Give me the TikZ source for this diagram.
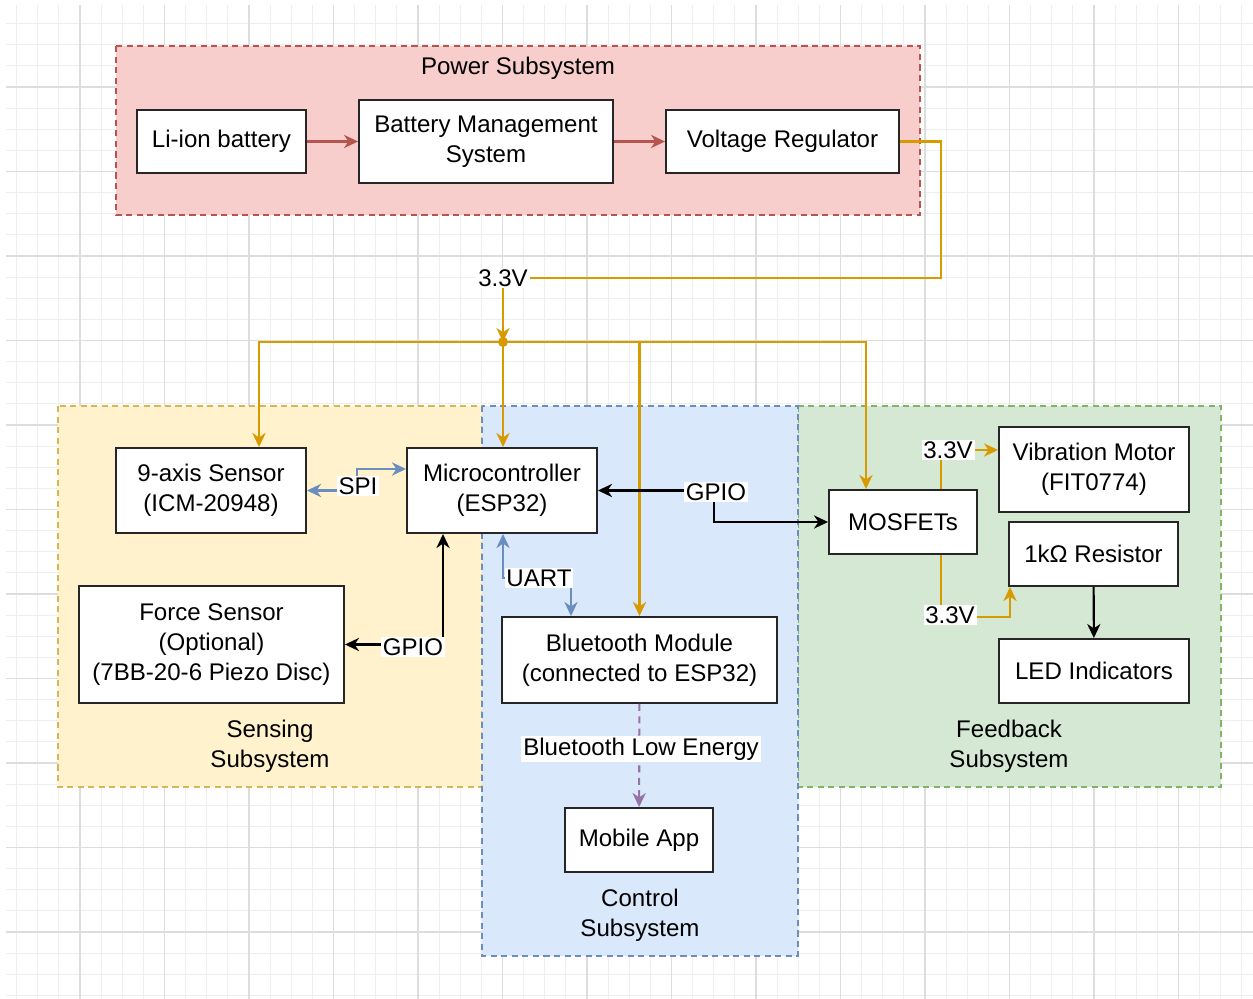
\documentclass[tikz,border=0pt]{standalone}
\usepackage{fontspec}
\setmainfont{Liberation Sans}
\usetikzlibrary{arrows.meta,calc}
\definecolor{PwrFill}{HTML}{F8CECC}\definecolor{PwrLine}{HTML}{B85450}
\definecolor{SenFill}{HTML}{FFF2CC}\definecolor{SenLine}{HTML}{D6B656}
\definecolor{CtlFill}{HTML}{DAE8FC}\definecolor{CtlLine}{HTML}{6C8EBF}
\definecolor{FbkFill}{HTML}{D5E8D4}\definecolor{FbkLine}{HTML}{82B366}
\definecolor{Volt}{HTML}{D79B00}
\definecolor{Radio}{HTML}{9673A6}
\definecolor{GridMinor}{HTML}{EEEEEE}\definecolor{GridMajor}{HTML}{DDDDDD}

\begin{document}
\begin{tikzpicture}[x=0.02cm,y=-0.02cm,>={Stealth[length=8pt,width=7.5pt,inset=2.5pt]},every node/.style={font=\fontsize{13.7}{17}\selectfont,text=black},box/.style={draw=black!85,line width=1.1pt,fill=white,align=center,inner sep=0pt},group/.style={dash pattern=on 3.5pt off 2.5pt,line width=1pt},lbl/.style={fill=white,inner sep=1pt},pwr/.style={draw=Volt,line width=1.2pt},spi/.style={draw=CtlLine,line width=1.2pt},sig/.style={draw=black,line width=1.2pt},feed/.style={draw=PwrLine,line width=1.2pt},ble/.style={draw=Radio,line width=1.2pt,dash pattern=on 4pt off 3pt}]
\useasboundingbox (0,0) rectangle (1253,999);
\fill[white] (0,0) rectangle (1253,999);
\foreach \k in {1,...,59} \draw[GridMinor,line width=0.6pt] ({-4.5+21.125*\k},5)--({-4.5+21.125*\k},999);
\foreach \k in {1,...,47} \draw[GridMinor,line width=0.6pt] (6,{2.5+21.125*\k})--(1253,{2.5+21.125*\k});
\foreach \k in {1,...,14} \draw[GridMajor,line width=0.7pt] ({-4.5+84.5*\k},5)--({-4.5+84.5*\k},999);
\foreach \k in {1,...,11} \draw[GridMajor,line width=0.7pt] (6,{2.5+84.5*\k})--(1253,{2.5+84.5*\k});

\draw[group,fill=PwrFill,draw=PwrLine] (116,46) rectangle (920,215);
\draw[group,fill=SenFill,draw=SenLine] (58,406) rectangle (482,787);
\draw[group,fill=FbkFill,draw=FbkLine] (798,406) rectangle (1221,787);
\draw[group,fill=CtlFill,draw=CtlLine] (482,406) rectangle (798,956);
\node (pwrT) at (518,68) {Power Subsystem};
\node[align=center] (senT) at (270,746) {Sensing\\Subsystem};
\node[align=center] (ctlT) at (640,915) {Control\\Subsystem};
\node[align=center] (fbkT) at (1009,746) {Feedback\\Subsystem};

\node[box,minimum width=3.38cm,minimum height=1.26cm] (batt) at (221.5,141.5) {Li-ion battery};
\node[box,minimum width=5.08cm,minimum height=1.66cm] (bms) at (486,141.5) {Battery Management\\System};
\node[box,minimum width=4.66cm,minimum height=1.26cm] (vreg) at (782.5,141.5) {Voltage Regulator};
\node[box,minimum width=3.8cm,minimum height=1.7cm] (imu) at (211,490.5) {9-axis Sensor\\(ICM-20948)};
\node[box,minimum width=3.8cm,minimum height=1.7cm] (mcu) at (502,490.5) {Microcontroller\\(ESP32)};
\node[box,minimum width=5.3cm,minimum height=2.34cm] (force) at (211.5,644.5) {Force Sensor\\(Optional)\\(7BB-20-6 Piezo Disc)};
\node[box,minimum width=5.5cm,minimum height=1.72cm] (bt) at (639.5,660) {Bluetooth Module\\(connected to ESP32)};
\node[box,minimum width=2.96cm,minimum height=1.28cm] (app) at (639,840) {Mobile App};
\node[box,minimum width=2.96cm,minimum height=1.28cm] (mos) at (903,522) {MOSFETs};
\node[box,minimum width=3.8cm,minimum height=1.7cm] (vib) at (1094,469.5) {Vibration Motor\\(FIT0774)};
\node[box,minimum width=3.38cm,minimum height=1.28cm] (res) at (1093.5,554) {1kΩ Resistor};
\node[box,minimum width=3.8cm,minimum height=1.28cm] (led) at (1094,671) {LED Indicators};

\draw[feed,->] (batt)--(bms);\draw[feed,->] (bms)--(vreg);
\coordinate (jn) at (503,342);
\draw[pwr,->] (vreg.east)-|(941,278)--(503,278)--(jn);
\node[lbl] (v1) at (503,278) {3.3V};
\draw[pwr,->] (jn)-|($(imu.north)+(48,0)$);\draw[pwr,->] (jn)--($(mcu.north)+(1,0)$);
\draw[pwr,->] (jn)-|(bt.north);\draw[pwr,->] (jn)-|($(mos.north)+(-37,0)$);
\fill[Volt] (jn) circle (5);

\coordinate (spiT) at (357,469);
\draw[spi,<->] (imu.east)--(357,490.5)--(spiT)--(spiT-|mcu.west);
\node[lbl] (spiL) at (358,486) {SPI};
\draw[sig,<->] (mcu.east)--(714,490.5)--(714,522)--(mos.west);
\node[lbl] (gp1) at (716,492) {GPIO};
\draw[sig,<->] ($(mcu.south)+(-59,0)$)--(443,644.5)--(force.east);
\node[lbl] (gp2) at (413,647) {GPIO};
\draw[spi,<->] ($(mcu.south)+(1,0)$)--(503,578)-|($(bt.north)+(-68.5,0)$);
\node[lbl] (uart) at (539,578) {UART};
\draw[ble,->] (bt)--(app);
\node[lbl] (bleL) at (641,749) {Bluetooth Low Energy};

\draw[pwr,->] ($(mos.north)+(38,0)$)--(941,450)--(vib.west|-941,450);
\node[lbl] (v2) at (948,450) {3.3V};
\draw[pwr,->] ($(mos.south)+(38,0)$)--(941,617)-|($(res.south)+(-83.5,0)$);
\node[lbl] (v3) at (950,615) {3.3V};
\draw[sig,->] (res)--(led);
\end{tikzpicture}
\end{document}
